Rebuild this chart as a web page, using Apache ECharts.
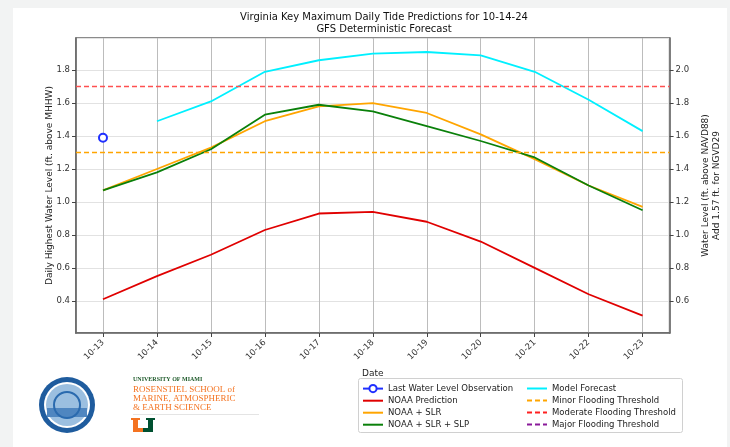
<!DOCTYPE html>
<html>
<head>
<meta charset="utf-8">
<script src="https://cdn.jsdelivr.net/npm/echarts@6/dist/echarts.min.js"></script>
<style>
  html, body { margin: 0; padding: 0; background: #f2f3f3; }
  #panel { position: absolute; left: 13px; top: 8px; width: 714px; height: 439px; background: #fff; }
  #chart { position: absolute; left: 0; top: 0; width: 730px; height: 447px; }
</style>
</head>
<body>
<div id="panel"></div>
<div id="chart"></div>
<script>
  var dates = ['10-13', '10-14', '10-15', '10-16', '10-17', '10-18', '10-19', '10-20', '10-21', '10-22', '10-23']
  var lastObservation = [1.39]
  var noaaPrediction = [0.41, 0.55, 0.68, 0.83, 0.93, 0.94, 0.88, 0.76, 0.60, 0.44, 0.31]
  var noaaSlr = [1.07, 1.20, 1.33, 1.49, 1.58, 1.60, 1.54, 1.41, 1.26, 1.10, 0.97]
  var noaaSlrSlp = [1.07, 1.18, 1.32, 1.53, 1.59, 1.55, 1.46, 1.37, 1.27, 1.10, 0.95]
  var modelForecast = [null, 1.49, 1.61, 1.79, 1.86, 1.90, 1.91, 1.89, 1.79, 1.62, 1.43]
  var minorThreshold = 1.3
  var moderateThreshold = 1.7

  function pairs(arr) {
    return arr.map(function (v, i) { return [i, v] })
  }

  var font = 'DejaVu Sans'
  var noSymbol = { opacity: 0 }
  var myChart = echarts.init(document.getElementById('chart'))

  myChart.setOption({
    backgroundColor: 'transparent',
    textStyle: { fontFamily: font },
    title: {
      text: 'Virginia Key Maximum Daily Tide Predictions for 10-14-24\nGFS Deterministic Forecast',
      left: 379,
      textAlign: 'center',
      top: 7,
      textStyle: { fontSize: 10, fontWeight: 'normal', color: '#111', lineHeight: 11.5, fontFamily: font }
    },
    grid: {
      left: 76, top: 38, width: 606, height: 295,
      show: true, borderColor: '#666', borderWidth: 1.5
    },
    legend: [{
      orient: 'vertical', left: 362, top: 384, itemGap: 3, padding: 0,
      itemWidth: 20, itemHeight: 9,
      textStyle: { fontSize: 8.5, color: '#222', fontFamily: font },
      data: [
        { name: 'Last Water Level Observation' },
        { name: 'NOAA Prediction', itemStyle: noSymbol },
        { name: 'NOAA + SLR', itemStyle: noSymbol },
        { name: 'NOAA + SLR + SLP', itemStyle: noSymbol }
      ]
    }, {
      orient: 'vertical', left: 526, top: 384, itemGap: 3, padding: 0,
      itemWidth: 20, itemHeight: 9,
      textStyle: { fontSize: 8.5, color: '#222', fontFamily: font },
      data: [
        { name: 'Model Forecast', itemStyle: noSymbol },
        { name: 'Minor Flooding Threshold', itemStyle: noSymbol },
        { name: 'Moderate Flooding Threshold', itemStyle: noSymbol },
        { name: 'Major Flooding Threshold', itemStyle: noSymbol }
      ]
    }],
    xAxis: {
      type: 'value',
      min: -0.5, max: 10.5,
      minInterval: 1, maxInterval: 1,
      name: 'Date', nameLocation: 'middle', nameGap: 28,
      nameTextStyle: { fontSize: 9, color: '#222' },
      axisLine: { onZero: false, lineStyle: { color: '#666', width: 1.5 } },
      axisTick: { length: 4, lineStyle: { color: '#444' } },
      axisLabel: {
        rotate: 45, fontSize: 8.5, color: '#333', margin: 8,
        showMinLabel: false, showMaxLabel: false,
        formatter: function (v) { return Number.isInteger(v) ? (dates[v] || '') : '' }
      },
      splitLine: { show: true, lineStyle: { color: '#bcbcbc', width: 1 } }
    },
    yAxis: [{
      type: 'value',
      min: 0.205, max: 1.995,
      minInterval: 0.2, maxInterval: 0.2,
      name: 'Daily Highest Water Level (ft. above MHHW)',
      nameLocation: 'middle', nameRotate: 90, nameGap: 22, nameMoveOverlap: false,
      nameTextStyle: { fontSize: 9, color: '#222' },
      axisLine: { show: true, onZero: false, lineStyle: { color: '#666', width: 1.5 } },
      axisTick: { show: true, length: 4, lineStyle: { color: '#444' } },
      axisLabel: {
        fontSize: 8.5, color: '#333', margin: 6,
        showMinLabel: false, showMaxLabel: false,
        formatter: function (v) { return v.toFixed(1) }
      },
      splitLine: { show: true, lineStyle: { color: '#e2e2e2', width: 1 } }
    }, {
      type: 'value',
      min: 0.405, max: 2.195,
      minInterval: 0.2, maxInterval: 0.2,
      position: 'right',
      name: 'Water Level (ft. above NAVD88)\nAdd 1.57 ft. for NGVD29',
      nameLocation: 'middle', nameRotate: 90, nameGap: 26,
      nameTextStyle: { fontSize: 9, color: '#222', lineHeight: 11 },
      axisLine: { show: true, onZero: false, lineStyle: { color: '#666', width: 1.5 } },
      axisTick: { show: true, length: 4, lineStyle: { color: '#444' } },
      axisLabel: {
        fontSize: 8.5, color: '#333', margin: 6,
        showMinLabel: false, showMaxLabel: false,
        formatter: function (v) { return v.toFixed(1) }
      },
      splitLine: { show: false }
    }],
    series: [{
      name: 'Last Water Level Observation',
      type: 'line',
      data: pairs(lastObservation),
      symbol: 'emptyCircle', symbolSize: 8,
      itemStyle: { color: '#2030ff', borderWidth: 1.2 },
      lineStyle: { color: '#2030ff', width: 1.5 },
      z: 5
    }, {
      name: 'NOAA Prediction',
      type: 'line',
      data: pairs(noaaPrediction),
      symbol: 'none',
      itemStyle: { color: '#e00000' },
      lineStyle: { color: '#e00000', width: 1.8 }
    }, {
      name: 'NOAA + SLR',
      type: 'line',
      data: pairs(noaaSlr),
      symbol: 'none',
      itemStyle: { color: '#ffa500' },
      lineStyle: { color: '#ffa500', width: 1.8 }
    }, {
      name: 'NOAA + SLR + SLP',
      type: 'line',
      data: pairs(noaaSlrSlp),
      symbol: 'none',
      itemStyle: { color: '#0a800a' },
      lineStyle: { color: '#0a800a', width: 1.8 }
    }, {
      name: 'Model Forecast',
      type: 'line',
      data: pairs(modelForecast),
      symbol: 'none',
      itemStyle: { color: '#00f0ff' },
      lineStyle: { color: '#00f0ff', width: 1.8 }
    }, {
      name: 'Minor Flooding Threshold',
      type: 'line',
      data: [],
      symbol: 'none',
      itemStyle: { color: '#ffa500' },
      lineStyle: { color: '#ffa500', width: 1.3, type: [5, 3] },
      markLine: {
        silent: true, symbol: 'none', label: { show: false },
        lineStyle: { color: '#ffa500', width: 1.3, type: [5, 3] },
        data: [{ yAxis: minorThreshold }]
      }
    }, {
      name: 'Moderate Flooding Threshold',
      type: 'line',
      data: [],
      symbol: 'none',
      itemStyle: { color: '#ff2020' },
      lineStyle: { color: '#ff2020', width: 1.3, type: [5, 3] },
      markLine: {
        silent: true, symbol: 'none', label: { show: false },
        lineStyle: { color: '#ff5050', width: 1.3, type: [5, 3] },
        data: [{ yAxis: moderateThreshold }]
      }
    }, {
      name: 'Major Flooding Threshold',
      type: 'line',
      data: [],
      symbol: 'none',
      itemStyle: { color: '#8a1a9a' },
      lineStyle: { color: '#8a1a9a', width: 1.3, type: [5, 3] }
    }],
    graphic: [
      // legend frame
      { type: 'rect', left: 358, top: 378, z: -1, shape: { width: 324, height: 54, r: 2 },
        style: { fill: '#fff', stroke: '#d0d0d0', lineWidth: 1 } },
      // seal
      { type: 'circle', shape: { cx: 67, cy: 405, r: 28 }, style: { fill: '#1f5c9e' } },
      { type: 'circle', shape: { cx: 67, cy: 405, r: 23 }, style: { fill: '#ffffff' } },
      { type: 'circle', shape: { cx: 67, cy: 405, r: 21 }, style: { fill: '#9bbfe0' } },
      { type: 'rect', shape: { x: 47, y: 408, width: 40, height: 9 }, style: { fill: '#4f86c0' } },
      { type: 'circle', shape: { cx: 67, cy: 405, r: 13 }, style: { fill: 'none', stroke: '#2a6aae', lineWidth: 2 } },
      // university text
      { type: 'text', left: 133, top: 376, style: { text: 'UNIVERSITY OF MIAMI', fill: '#1e5a2a', font: 'bold 6px "Liberation Serif"' } },
      { type: 'text', left: 133, top: 385, style: { text: 'ROSENSTIEL SCHOOL of', fill: '#f47321', font: '9px "Liberation Serif"' } },
      { type: 'text', left: 133, top: 394, style: { text: 'MARINE, ATMOSPHERIC', fill: '#f47321', font: '9px "Liberation Serif"' } },
      { type: 'text', left: 133, top: 403, style: { text: '& EARTH SCIENCE', fill: '#f47321', font: '9px "Liberation Serif"' } },
      { type: 'rect', shape: { x: 133, y: 414, width: 126, height: 1 }, style: { fill: '#e4e4e4' } },
      // U mark
      { type: 'rect', shape: { x: 133, y: 419, width: 5, height: 13 }, style: { fill: '#f47321' } },
      { type: 'rect', shape: { x: 133, y: 428, width: 10, height: 4 }, style: { fill: '#f47321' } },
      { type: 'rect', shape: { x: 143, y: 428, width: 9, height: 4 }, style: { fill: '#005030' } },
      { type: 'rect', shape: { x: 148, y: 419, width: 5, height: 13 }, style: { fill: '#005030' } },
      { type: 'rect', shape: { x: 131, y: 418, width: 9, height: 2 }, style: { fill: '#f47321' } },
      { type: 'rect', shape: { x: 146, y: 418, width: 9, height: 2 }, style: { fill: '#005030' } }
    ]
  })
</script>
</body>
</html>
